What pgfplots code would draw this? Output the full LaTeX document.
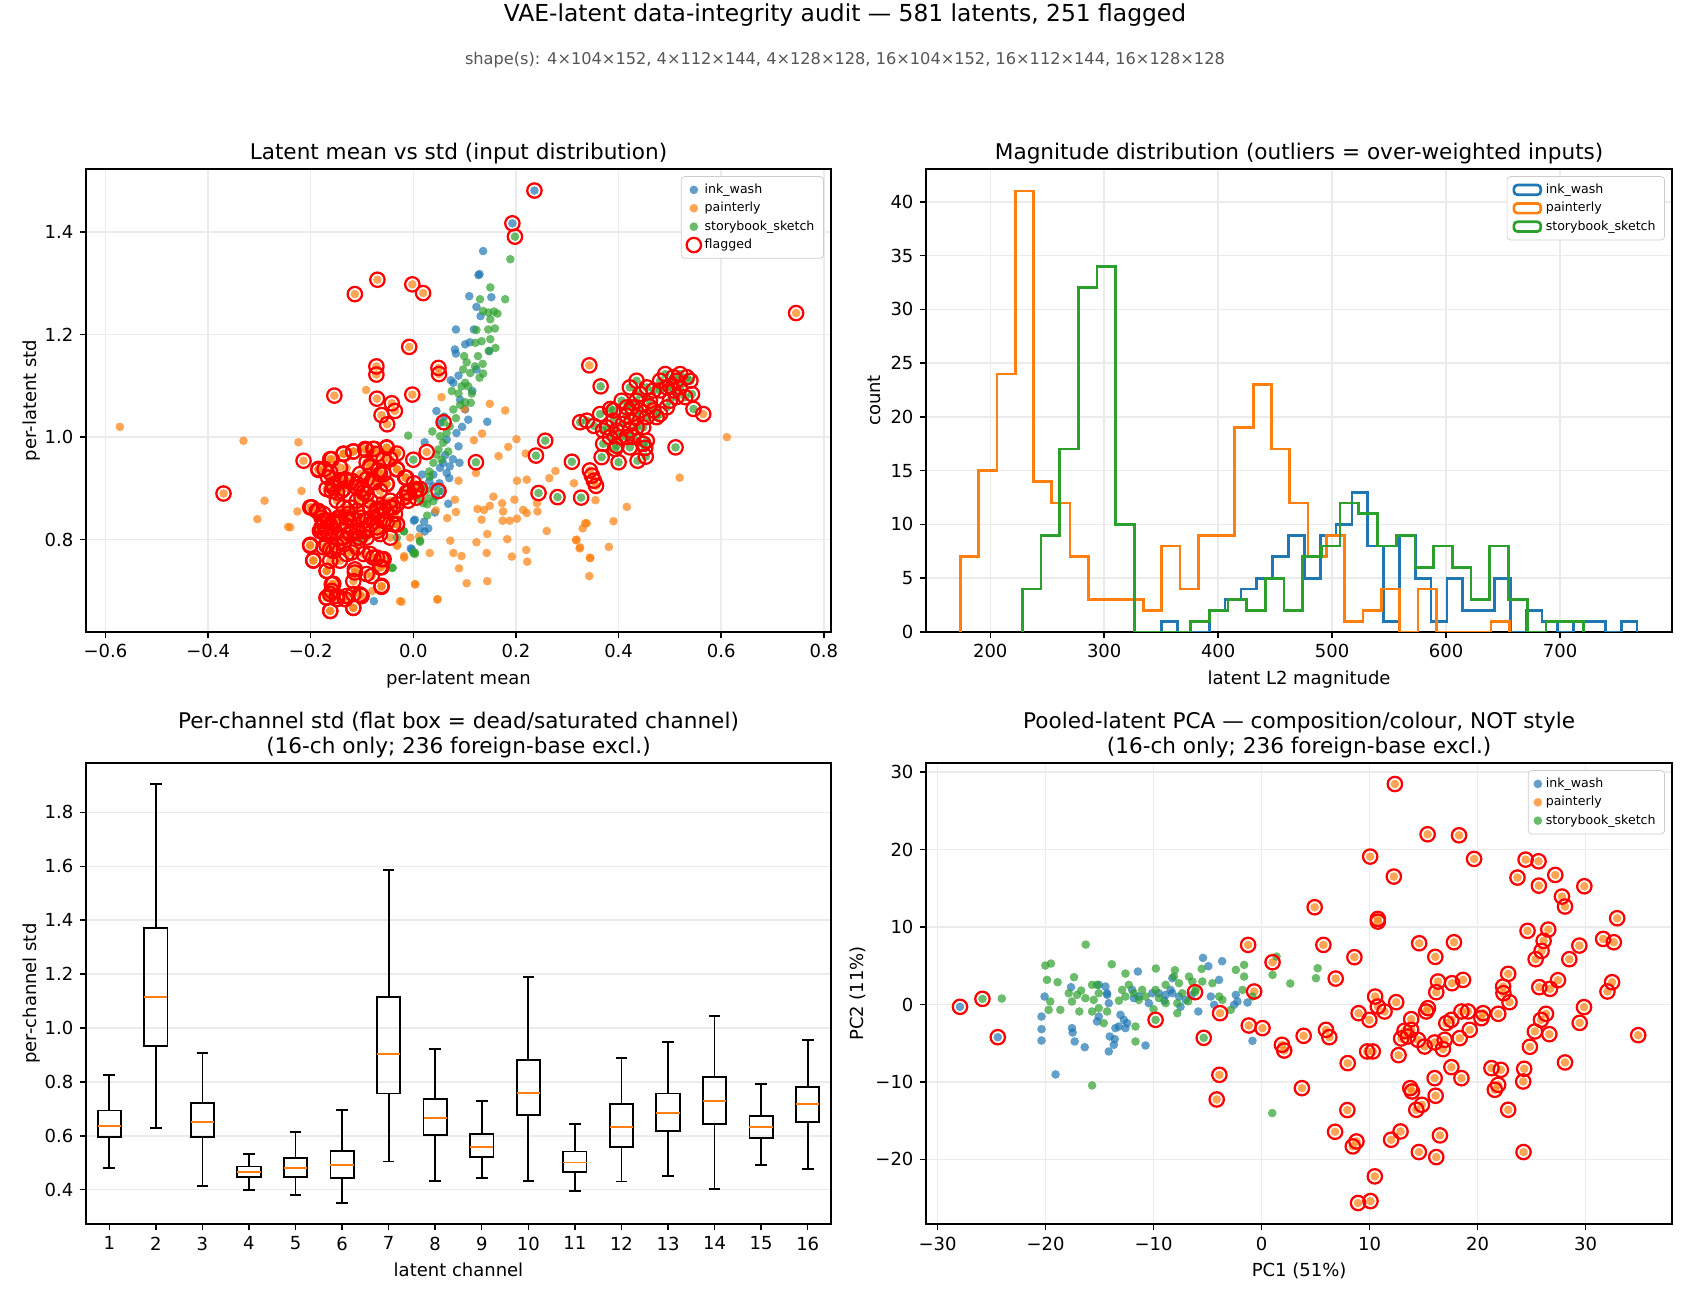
\documentclass[border=0pt]{standalone}
\usepackage{pgfplots}
\pgfplotsset{compat=1.18}
\usepackage{pgfplotstable}
\usepgfplotslibrary{statistics}
\usepackage{fontspec}
\setmainfont{DejaVu Sans}
\definecolor{mblue}{HTML}{1F77B4}
\definecolor{morange}{HTML}{FF7F0E}
\definecolor{mgreen}{HTML}{2CA02C}
\definecolor{mgrid}{HTML}{EBEBEB}
\definecolor{msub}{HTML}{555555}

\pgfplotsset{
  mpl/.style={
    scale only axis,
    axis line style={line width=0.8pt},
    tick align=outside, tick pos=left,
    major tick length=3.5pt,
    tick style={line width=0.8pt, black},
    tick label style={font=\fontsize{10}{12}\selectfont},
    label style={font=\fontsize{10}{12}\selectfont},
    title style={font=\fontsize{12}{13.5}\selectfont, align=center, yshift=-6.6pt},
    grid=major,
    major grid style={line width=0.8pt, draw=mgrid},
    legend cell align=left,
    legend style={font=\fontsize{7}{8.4}\selectfont, draw=black!20, rounded corners=2pt, fill=white,
      at={(1,1)}, anchor=north east, xshift=-4pt, yshift=-4pt, row sep=-0.6pt},
  },
  dotB/.style={only marks, mark=*, mark size=2.4pt, mark options={draw opacity=0, fill=mblue, fill opacity=0.7}},
  dotO/.style={only marks, mark=*, mark size=2.4pt, mark options={draw opacity=0, fill=morange, fill opacity=0.7}},
  dotG/.style={only marks, mark=*, mark size=2.4pt, mark options={draw opacity=0, fill=mgreen, fill opacity=0.7}},
  flag/.style={only marks, mark=o, mark size=4pt, mark options={draw=red, line width=1.25pt, fill=none}},
  hst/.style={const plot, line width=1.5pt, mark=none},
}

% ---------------- top-left: mean vs std ----------------
\pgfplotstableread[row sep=\\]{x y\\
0.136 1.363\\ 0.129 1.318\\ 0.127 1.316\\ 0.109 1.275\\ 0.152 1.273\\ 0.123 1.254\\ 0.131 1.236\\
0.083 1.210\\ 0.118 1.210\\ 0.101 1.181\\ 0.110 1.185\\ 0.081 1.171\\ 0.083 1.163\\ 0.148 1.168\\
0.123 1.132\\ 0.073 1.111\\ 0.078 1.106\\ 0.115 1.090\\ 0.091 1.073\\ 0.101 1.054\\ 0.045 1.051\\
0.107 1.034\\ 0.052 1.028\\ 0.144 1.030\\ 0.084 1.008\\ 0.065 0.995\\ 0.022 0.990\\ 0.088 0.982\\
0.090 0.950\\ 0.071 0.943\\ 0.077 0.957\\ 0.058 0.950\\ 0.052 0.940\\ 0.065 0.930\\ 0.070 0.920\\
0.039 0.927\\ 0.031 0.914\\ 0.017 0.927\\ 0.039 0.904\\ 0.051 0.910\\ 0.057 0.894\\ 0.044 0.884\\
0.003 0.839\\ 0.021 0.835\\ 0.013 0.822\\ 0.029 0.822\\ 0.022 0.816\\ -0.005 0.783\\ -0.077 0.680\\
-0.003 0.781\\ 0.001 0.837\\ 0.042 0.853\\ 0.062 0.965\\ 0.095 1.020\\ 0.060 1.040\\ 0.088 1.120\\ 0.068 0.870\\
}\tlBU
\pgfplotstableread[row sep=\\]{x y\\ 0.236 1.481\\ 0.193 1.417\\}\tlBF
\pgfplotstableread[row sep=\\]{x y\\
-0.572 1.020\\ -0.331 0.993\\ -0.224 0.990\\ -0.290 0.876\\ -0.304 0.840\\ -0.244 0.825\\ -0.218 0.895\\
-0.226 0.855\\ -0.092 1.092\\ -0.026 0.680\\ 0.047 0.684\\ 0.004 0.713\\ -0.018 0.765\\ -0.006 0.804\\
-0.031 0.790\\ 0.055 1.078\\ 0.149 1.065\\ 0.179 1.052\\ 0.100 1.055\\ 0.118 0.994\\ 0.134 1.007\\
0.166 0.963\\ 0.185 0.981\\ 0.201 0.996\\ 0.219 0.968\\ 0.202 0.915\\ 0.221 0.917\\ 0.241 0.871\\
0.088 0.915\\ 0.122 0.930\\ 0.081 0.878\\ 0.066 0.842\\ 0.044 0.857\\ 0.083 0.854\\ 0.156 0.884\\
0.173 0.871\\ 0.149 0.866\\ 0.125 0.860\\ 0.138 0.858\\ 0.133 0.839\\ 0.175 0.855\\ 0.197 0.878\\
0.174 0.837\\ 0.188 0.837\\ 0.202 0.841\\ 0.214 0.858\\ 0.221 0.852\\ 0.242 0.855\\ 0.260 0.817\\
0.183 0.801\\ 0.144 0.811\\ 0.123 0.795\\ 0.072 0.798\\ 0.078 0.774\\ 0.094 0.768\\ 0.032 0.774\\
-0.018 0.768\\ 0.011 0.806\\ 0.192 0.767\\ 0.220 0.780\\ 0.222 0.757\\ 0.143 0.774\\ 0.089 0.744\\
0.104 0.715\\ 0.144 0.719\\ 0.047 0.683\\ 0.003 0.713\\ -0.023 0.679\\ 0.335 0.832\\ 0.330 0.822\\
0.318 0.800\\ 0.325 0.785\\ 0.344 0.765\\ 0.343 0.729\\ 0.313 0.910\\ 0.265 0.920\\ 0.277 0.934\\
0.611 1.000\\ 0.519 0.921\\ 0.355 0.877\\ 0.416 0.864\\ 0.390 0.836\\ 0.338 0.832\\ 0.317 0.799\\
0.324 0.783\\ 0.381 0.786\\ 0.345 0.764\\ -0.060 0.880\\ -0.120 0.860\\ -0.150 0.760\\ -0.080 0.700\\
-0.190 0.820\\ -0.130 0.940\\ -0.031 0.970\\ -0.240 0.824\\ -0.032 0.788\\
}\tlOU
\pgfplotstableread[row sep=\\]{x y\\
-0.370 0.890\\ -0.214 0.954\\ -0.185 0.936\\ -0.173 0.938\\ -0.159 0.957\\ -0.136 0.968\\ -0.117 0.972\\
-0.092 0.975\\ -0.076 0.977\\ -0.052 0.979\\ -0.084 0.944\\ -0.068 0.935\\ -0.058 0.957\\ -0.032 0.937\\
-0.014 0.921\\ 0.001 0.910\\ 0.006 0.898\\ -0.009 0.892\\ 0.006 0.882\\ -0.143 0.916\\ -0.156 0.908\\
-0.169 0.899\\ -0.130 0.915\\ -0.110 0.902\\ -0.097 0.892\\ -0.101 0.882\\ -0.084 0.876\\ -0.065 0.895\\
-0.052 0.908\\ -0.039 0.863\\ -0.032 0.830\\ -0.045 0.876\\ -0.053 0.856\\ -0.071 0.860\\ -0.201 0.863\\
-0.188 0.856\\ -0.179 0.843\\ -0.175 0.830\\ -0.169 0.817\\ -0.156 0.834\\ -0.146 0.843\\ -0.130 0.827\\
-0.117 0.840\\ -0.097 0.837\\ -0.084 0.830\\ -0.071 0.817\\ -0.091 0.804\\ -0.107 0.804\\ -0.123 0.811\\
-0.140 0.804\\ -0.149 0.788\\ -0.162 0.781\\ -0.175 0.785\\ -0.201 0.790\\ -0.195 0.760\\ -0.169 0.739\\
-0.162 0.759\\ -0.143 0.759\\ -0.130 0.772\\ -0.110 0.785\\ -0.084 0.772\\ -0.071 0.765\\ -0.058 0.762\\
-0.062 0.746\\ -0.081 0.729\\ -0.114 0.736\\ -0.117 0.719\\ -0.156 0.714\\ -0.159 0.700\\ -0.169 0.687\\
-0.162 0.661\\ -0.149 0.684\\ -0.130 0.690\\ -0.117 0.667\\ -0.104 0.693\\ -0.062 0.708\\ -0.136 0.804\\
-0.045 0.804\\ -0.039 0.830\\ -0.179 0.824\\ -0.166 0.837\\ -0.162 0.827\\ -0.153 0.817\\ -0.172 0.811\\
-0.182 0.817\\ -0.143 0.833\\ -0.130 0.843\\ -0.110 0.824\\ -0.097 0.817\\ -0.081 0.843\\ -0.068 0.847\\
-0.052 0.834\\ -0.036 0.850\\ -0.019 0.882\\ -0.010 0.876\\ -0.110 0.876\\ -0.123 0.863\\ -0.136 0.863\\
-0.149 0.876\\ -0.159 0.895\\ -0.140 0.895\\ -0.120 0.915\\ -0.104 0.928\\ -0.091 0.951\\ -0.071 0.967\\
-0.045 0.957\\ -0.143 0.941\\ -0.162 0.931\\ -0.091 0.918\\ -0.075 0.912\\ -0.058 0.928\\
-0.185 0.938\\ -0.162 0.957\\ -0.136 0.967\\ -0.117 0.972\\ -0.094 0.977\\ -0.078 0.977\\ -0.052 0.980\\
-0.032 0.968\\ -0.166 0.921\\ -0.143 0.915\\ -0.133 0.918\\ -0.156 0.902\\ -0.149 0.892\\ -0.136 0.899\\
-0.110 0.909\\ -0.101 0.899\\ -0.091 0.889\\ -0.078 0.915\\ -0.065 0.928\\ -0.084 0.941\\ -0.052 0.909\\
-0.032 0.938\\ -0.016 0.921\\ -0.013 0.892\\ 0.003 0.895\\ 0.013 0.899\\ -0.198 0.863\\ -0.185 0.856\\
-0.175 0.850\\ -0.175 0.837\\ -0.169 0.824\\ -0.179 0.817\\ -0.156 0.837\\ -0.143 0.843\\ -0.127 0.850\\
-0.110 0.856\\ -0.101 0.843\\ -0.084 0.863\\ -0.071 0.856\\ -0.058 0.863\\ -0.045 0.863\\ -0.032 0.869\\
-0.032 0.830\\ -0.084 0.830\\ -0.071 0.824\\ -0.058 0.837\\ -0.110 0.817\\ -0.123 0.811\\ -0.104 0.804\\
-0.065 0.811\\ -0.091 0.817\\ -0.201 0.788\\ -0.169 0.788\\ -0.156 0.778\\ -0.136 0.791\\ -0.120 0.775\\
-0.097 0.772\\ -0.078 0.765\\ -0.062 0.762\\ -0.195 0.759\\ -0.169 0.739\\ -0.114 0.742\\ -0.091 0.733\\
-0.065 0.746\\ -0.062 0.710\\ -0.159 0.713\\ -0.162 0.694\\ -0.169 0.687\\ -0.149 0.690\\ -0.133 0.684\\
-0.117 0.694\\ -0.101 0.690\\ -0.162 0.661\\ -0.117 0.667\\
-0.070 1.307\\ -0.002 1.298\\ 0.019 1.281\\ -0.114 1.279\\ 0.746 1.242\\ -0.008 1.176\\ -0.072 1.138\\
-0.072 1.122\\ 0.049 1.135\\ 0.050 1.123\\ -0.154 1.081\\ -0.071 1.075\\ -0.002 1.083\\ -0.042 1.066\\
-0.036 1.051\\ -0.062 1.043\\ -0.051 1.025\\ 0.026 0.971\\ 0.343 1.140\\ 0.565 1.045\\ 0.344 0.935\\
0.348 0.925\\ 0.352 0.915\\ 0.356 0.905\\ 0.425 1.030\\ 0.500 1.100\\ 0.460 1.060\\
}\tlOF
\pgfplotstableread[row sep=\\]{x y\\
0.189 1.347\\ 0.150 1.292\\ 0.130 1.269\\ 0.179 1.269\\ 0.136 1.246\\ 0.146 1.243\\ 0.157 1.245\\
0.164 1.241\\ 0.150 1.230\\ 0.159 1.212\\ 0.146 1.210\\ 0.123 1.209\\ 0.150 1.191\\ 0.121 1.184\\
0.133 1.187\\ 0.160 1.174\\ 0.147 1.168\\ 0.099 1.158\\ 0.126 1.158\\ 0.135 1.143\\ 0.104 1.146\\
0.120 1.138\\ 0.097 1.132\\ 0.111 1.125\\ 0.101 1.106\\ 0.129 1.116\\ 0.136 1.124\\ 0.094 1.099\\
0.107 1.099\\ 0.114 1.085\\ 0.088 1.085\\ 0.075 1.090\\ 0.101 1.068\\ 0.112 1.067\\ 0.091 1.063\\
0.078 1.054\\ 0.083 1.037\\ 0.037 1.011\\ -0.010 1.003\\ 0.045 0.966\\ 0.055 0.956\\ 0.039 0.950\\
0.031 0.933\\ 0.032 0.923\\ 0.026 0.897\\ 0.013 0.878\\ 0.019 0.871\\ 0.017 0.904\\ 0.039 0.875\\
0.030 0.881\\ 0.013 0.796\\ 0.000 0.774\\ -0.018 0.816\\ 0.071 1.021\\ 0.065 1.008\\ 0.058 0.989\\
0.049 0.976\\ 0.068 0.972\\ 0.052 1.002\\ -0.040 0.745\\ -0.032 0.804\\ 0.013 0.798\\ 0.003 0.772\\
0.027 0.869\\ 0.027 0.847\\ -0.042 0.745\\ -0.104 0.801\\ 0.003 0.775\\ -0.019 0.817\\
}\tlGU
\pgfplotstableread[row sep=\\]{x y\\
0.198 1.391\\ 0.059 1.029\\ 0.000 0.956\\ 0.049 0.895\\ 0.122 0.951\\ 0.257 0.993\\ 0.239 0.964\\
0.244 0.891\\ 0.281 0.883\\ 0.327 0.882\\ 0.309 0.952\\ 0.365 1.099\\ 0.511 0.980\\ 0.400 0.951\\
0.437 0.954\\ 0.453 0.962\\ 0.325 1.029\\ 0.338 1.032\\ 0.352 1.022\\ 0.367 0.961\\ 0.370 0.987\\
0.393 0.977\\ 0.452 0.979\\ 0.364 1.045\\ 0.384 1.055\\ 0.377 1.019\\ 0.390 1.032\\
0.396 1.013\\ 0.403 1.000\\ 0.416 1.000\\ 0.422 1.013\\ 0.409 1.026\\ 0.416 1.042\\ 0.426 1.058\\
0.435 1.071\\ 0.442 1.084\\ 0.435 1.110\\ 0.422 1.097\\ 0.455 1.097\\ 0.468 1.091\\ 0.481 1.091\\
0.491 1.123\\ 0.507 1.117\\ 0.520 1.123\\ 0.533 1.117\\ 0.543 1.084\\ 0.546 1.055\\ 0.513 1.078\\
0.500 1.071\\ 0.481 1.045\\ 0.468 1.052\\ 0.455 1.039\\ 0.448 1.019\\ 0.435 1.019\\ 0.461 1.071\\
0.442 1.052\\ 0.494 1.097\\ 0.520 1.097\\ 0.530 1.078\\ 0.481 1.110\\ 0.383 1.000\\ 0.370 1.013\\
0.422 0.980\\ 0.455 0.993\\ 0.474 1.039\\ 0.507 1.091\\ 0.513 1.110\\ 0.540 1.110\\ 0.435 1.039\\
0.416 1.058\\ 0.406 1.071\\ 0.390 1.052\\ 0.494 1.058\\ 0.429 1.000\\ 0.448 0.987\\ 0.396 0.983\\
}\tlGF

% ---------------- bottom-right: PCA ----------------
\pgfplotstableread[row sep=\\]{x y\\
-20.09 1.03\\ -20.37 -1.55\\ -20.37 -3.18\\ -20.37 -4.65\\ -19.07 -9.03\\ -17.64 2.24\\ -17.55 -3.05\\
-17.49 -3.61\\ -17.30 -4.77\\ -16.37 -5.51\\ -15.07 -1.55\\ -15.23 -2.19\\ -14.30 1.25\\ -14.14 0.17\\
-13.06 -1.33\\ -12.75 -1.98\\ -12.44 -2.41\\ -13.53 -3.05\\ -13.22 -2.84\\ -12.60 -3.05\\ -14.05 -4.13\\
-13.59 -4.47\\ -13.68 -5.20\\ -14.14 -6.06\\ -10.74 -5.29\\ -11.45 4.26\\ -11.98 1.89\\ -11.82 0.82\\
-11.36 1.03\\ -10.43 0.17\\ -10.12 1.46\\ -9.50 1.46\\ -8.88 1.25\\ -8.26 1.46\\ -8.42 1.89\\
-8.26 3.40\\ -7.64 1.03\\ -7.03 0.60\\ -5.42 6.02\\ -4.92 4.95\\ -3.65 5.59\\ -3.93 3.18\\
-4.70 1.03\\ -4.39 -0.04\\ -2.38 1.25\\ -2.23 0.39\\ -2.54 -0.04\\ -1.30 0.26\\ -5.85 -0.90\\
-0.84 -4.69\\ -15.07 2.54\\ -14.45 2.32\\ -14.30 1.46\\ -9.00 0.50\\ -6.50 1.20\\ -7.50 -0.30\\
}\pcBU
\pgfplotstableread[row sep=\\]{x y\\ -27.92 -0.30\\ -24.42 -4.22\\}\pcBF
\pgfplotstableread[row sep=\\]{x y\\
-24.05 0.77\\ -16.28 7.74\\ -20.02 5.03\\ -19.50 5.29\\ -19.86 3.18\\ -18.88 2.88\\ -17.36 3.53\\
-13.87 5.20\\ -12.60 4.00\\ -9.78 4.65\\ -8.02 4.43\\ -5.54 4.60\\ -19.56 0.39\\ -19.71 -0.69\\
-18.63 -0.69\\ -16.87 -0.90\\ -17.85 1.46\\ -17.08 1.25\\ -16.31 0.82\\ -17.55 0.39\\ -15.69 2.54\\
-15.23 2.54\\ -15.07 1.46\\ -15.54 0.60\\ -15.69 -0.90\\ -15.07 -0.47\\ -14.30 -0.90\\ -14.61 -2.41\\
-12.91 1.89\\ -12.29 2.54\\ -12.60 1.03\\ -11.82 1.46\\ -11.05 1.89\\ -11.36 0.60\\ -10.74 1.03\\
-9.81 1.89\\ -8.88 2.54\\ -9.50 0.82\\ -8.88 0.17\\ -8.11 3.61\\ -7.64 2.75\\ -7.34 1.46\\
-7.80 0.17\\ -7.80 -1.12\\ -6.72 3.61\\ -6.41 2.97\\ -6.10 1.89\\ -5.48 2.97\\ -4.55 2.75\\
-3.93 1.03\\ -3.62 0.60\\ -2.85 -0.69\\ -2.38 4.47\\ -1.61 5.12\\ -1.61 3.61\\ -1.76 1.89\\
-0.84 1.03\\ 1.02 3.83\\ 2.66 2.71\\ 1.39 6.19\\ 5.20 4.69\\ 5.04 3.40\\ -11.67 -2.84\\
-11.67 -4.77\\ -15.69 -10.45\\ 0.99 -14.02\\ -16.70 1.80\\ -13.20 0.50\\ -10.00 -0.60\\ -6.80 0.40\\
}\pcGU
\pgfplotstableread[row sep=\\]{x y\\ -25.84 0.73\\ -9.81 -1.98\\ -6.16 1.59\\ -5.35 -4.30\\}\pcGF
\pgfplotstableread[row sep=\\]{x y\\
-1.24 7.70\\ -0.68 1.68\\ -3.84 -1.12\\ -1.18 -2.71\\ 0.09 -3.05\\ -3.90 -9.08\\ -4.15 -12.26\\
1.02 5.46\\ 1.89 -5.20\\ 2.10 -5.94\\ 3.90 -4.04\\ 3.74 -10.80\\ 4.92 12.56\\ 5.73 7.70\\ 5.97 -3.27\\
12.35 28.47\\ 15.38 21.98\\ 18.29 21.85\\ 10.06 19.10\\ 19.68 18.80\\ 12.25 16.52\\ 24.45 18.71\\
25.65 18.49\\ 23.70 16.39\\ 27.20 16.73\\ 25.68 15.35\\ 29.89 15.27\\ 27.82 13.94\\ 28.10 12.65\\
10.77 11.05\\ 10.77 10.71\\ 32.93 11.14\\ 8.60 6.11\\ 14.60 7.91\\ 17.82 8.04\\ 16.09 6.15\\
6.87 3.35\\ 24.63 9.51\\ 26.55 9.68\\ 26.12 8.22\\ 25.93 6.92\\ 25.38 5.85\\ 29.43 7.61\\
28.50 5.85\\ 31.63 8.47\\ 32.62 8.04\\ 22.84 3.96\\ 22.37 2.32\\ 22.40 1.46\\ 22.96 0.30\\
25.72 2.24\\ 26.71 2.02\\ 27.45 3.14\\ 32.46 2.88\\ 32.03 1.68\\ 29.86 -0.34\\ 29.46 -2.37\\
34.88 -3.96\\ 8.99 -1.12\\ 9.99 -1.98\\ 10.52 1.03\\ 10.77 -0.26\\ 11.39 -0.90\\ 12.47 0.30\\
16.34 2.97\\ 17.64 2.75\\ 18.66 3.18\\ 16.18 1.59\\ 15.41 -0.47\\ 15.25 -0.90\\ 13.86 -1.89\\
13.24 -3.40\\ 13.86 -3.27\\ 14.48 -4.56\\ 15.10 -5.42\\ 16.03 -4.90\\ 16.96 -4.56\\ 16.80 -5.76\\
12.93 -4.39\\ 13.55 -4.13\\ 17.11 -2.41\\ 17.58 -1.98\\ 18.51 -0.90\\ 19.12 -0.90\\ 18.35 -4.34\\
19.28 -3.27\\ 20.36 -1.76\\ 20.52 -1.12\\ 21.92 -1.20\\ 6.28 -4.22\\ 7.98 -7.57\\ 9.78 -6.06\\
10.30 -6.06\\ 12.69 -6.54\\ 17.58 -8.09\\ 18.51 -9.51\\ 16.03 -9.51\\ 21.29 -8.22\\ 22.16 -8.43\\
21.91 -10.37\\ 21.60 -11.01\\ 24.32 -8.30\\ 24.23 -9.94\\ 26.34 -1.20\\ 25.87 -1.98\\ 25.31 -3.48\\
26.65 -3.83\\ 24.85 -5.46\\ 28.10 -7.48\\ 13.77 -10.80\\ 13.93 -11.23\\ 16.12 -11.78\\ 14.85 -12.95\\
14.33 -13.59\\ 22.84 -13.59\\ 7.95 -13.63\\ 6.81 -16.43\\ 8.79 -17.68\\ 8.45 -18.32\\ 12.00 -17.46\\
12.87 -16.39\\ 16.52 -16.90\\ 14.57 -19.05\\ 16.18 -19.70\\ 24.26 -19.05\\ 10.49 -22.19\\ 8.94 -25.63\\
10.09 -25.38\\
}\pcOF

\begin{document}
\begin{tikzpicture}
\path[use as bounding box] (0,0) rectangle (936bp,-720bp);
\node[font=\fontsize{13}{15.6}\selectfont] at (468bp,-8.3bp) {VAE-latent data-integrity audit — 581 latents, 251 flagged};
\node[font=\fontsize{9}{10.8}\selectfont, text=msub] at (468bp,-33.3bp) {shape(s): 4×104×152, 4×112×144, 4×128×128, 16×104×152, 16×112×144, 16×128×128};

% ===== top-left =====
\begin{axis}[mpl, at={(47.63bp,-93.6bp)}, anchor=north west, width=412.6bp, height=256.4bp,
  xmin=-0.638, xmax=0.814, ymin=0.620, ymax=1.523,
  xtick={-0.6,-0.4,-0.2,0,0.2,0.4,0.6,0.8},
  xticklabels={−0.6,−0.4,−0.2,0.0,0.2,0.4,0.6,0.8},
  ytick={0.8,1.0,1.2,1.4}, yticklabels={0.8,1.0,1.2,1.4},
  title={Latent mean vs std (input distribution)},
  xlabel={per-latent mean}, ylabel={per-latent std},
  ylabel style={yshift=-4.2pt},
  legend image code/.code={\draw[mark repeat=2,mark phase=2,#1] plot coordinates {(0pt,0pt) (7pt,0pt) (14pt,0pt)};},
]
\addplot[dotB] table {\tlBU}; \addlegendentry{ink\_wash}
\addplot[dotB, forget plot] table {\tlBF};
\addplot[dotO] table {\tlOU}; \addlegendentry{painterly}
\addplot[dotO, forget plot] table {\tlOF};
\addplot[dotG] table {\tlGU}; \addlegendentry{storybook\_sketch}
\addplot[dotG, forget plot] table {\tlGF};
\addplot[flag] table {\tlOF}; \addlegendentry{flagged}
\addplot[flag, forget plot] table {\tlGF};
\addplot[flag, forget plot] table {\tlBF};
\end{axis}

% ===== top-right: histogram =====
\begin{axis}[mpl, at={(512.9bp,-93.6bp)}, anchor=north west, width=413.2bp, height=256.4bp,
  xmin=143.7, xmax=798.3, ymin=0, ymax=43.05,
  xtick={200,300,400,500,600,700}, xticklabels={200,300,400,500,600,700},
  ytick={0,5,10,15,20,25,30,35,40}, yticklabels={0,5,10,15,20,25,30,35,40},
  title={Magnitude distribution (outliers = over-weighted inputs)},
  xlabel={latent L2 magnitude}, ylabel={count},
  ylabel style={yshift=-1.2pt},
  legend image code/.code={\draw[#1, line width=1.5pt] (0pt,-2.7pt) rectangle (15pt,2.7pt);},
]
\addplot[hst, mblue] coordinates {(350.5,0) (350.5,1) (364.4,0) (378.3,0) (392.2,2) (406.1,3) (420.0,4) (433.9,5) (447.8,7) (461.7,9) (475.6,5) (489.5,9) (503.4,10) (517.3,13) (531.2,8) (545.1,1) (559.0,9) (572.9,5) (586.8,1) (600.7,5) (614.6,2) (628.5,2) (642.4,5) (656.3,0) (670.2,2) (684.1,1) (698.0,0) (711.9,1) (725.8,1) (739.7,0) (753.6,1) (767.5,0)};
\addlegendentry{ink\_wash}
\addplot[hst, morange] coordinates {(173.7,0) (173.7,7) (189.8,15) (205.8,24) (221.9,41) (237.9,14) (254.0,12) (270.1,7) (286.1,3) (302.2,3) (318.2,3) (334.3,2) (350.4,8) (366.4,4) (382.5,9) (398.5,9) (414.6,19) (430.7,23) (446.7,17) (462.8,12) (478.8,7) (494.9,9) (511.0,1) (527.0,2) (543.1,4) (559.1,0) (575.2,4) (591.3,0) (607.3,0) (623.4,0) (639.4,1) (655.5,0)};
\addlegendentry{painterly}
\addplot[hst, mgreen] coordinates {(228.0,0) (228.0,4) (244.4,9) (260.8,17) (277.2,32) (293.6,34) (310.1,10) (326.5,0) (342.9,0) (359.3,0) (375.7,1) (392.1,2) (408.5,3) (424.9,2) (441.3,5) (457.7,2) (474.2,7) (490.6,8) (507.0,12) (523.4,11) (539.8,8) (556.2,9) (572.6,6) (589.0,8) (605.4,6) (621.8,3) (638.3,8) (654.7,3) (671.1,0) (687.5,1) (703.9,1) (720.3,0)};
\addlegendentry{storybook\_sketch}
\end{axis}

% ===== bottom-left: box plots =====
\begin{axis}[mpl, at={(47.63bp,-422.6bp)}, anchor=north west, width=412.6bp, height=255.3bp,
  xmin=0.5, xmax=16.5, ymin=0.273, ymax=1.983,
  xmajorgrids=false, ymajorgrids=true,
  xtick={1,...,16}, xticklabels={1,2,3,4,5,6,7,8,9,10,11,12,13,14,15,16},
  ytick={0.4,0.6,0.8,1.0,1.2,1.4,1.6,1.8}, yticklabels={0.4,0.6,0.8,1.0,1.2,1.4,1.6,1.8},
  title={Per-channel std (flat box = dead/saturated channel)\\(16-ch only; 236 foreign-base excl.)},
  xlabel={latent channel}, ylabel={per-channel std},
  ylabel style={yshift=-4.2pt},
  boxplot/draw direction=y,
  boxplot/box extend=0.5, boxplot/whisker extend=0.25,
  boxplot/every median/.style={draw=morange, line width=1pt},
]
\addplot[draw=black, line width=1pt, boxplot prepared={draw direction=y, draw position=1, median=0.636, upper quartile=0.694, lower quartile=0.596, upper whisker=0.827, lower whisker=0.482}] coordinates {};
\addplot[draw=black, line width=1pt, boxplot prepared={draw direction=y, draw position=2, median=1.116, upper quartile=1.371, lower quartile=0.932, upper whisker=1.905, lower whisker=0.629}] coordinates {};
\addplot[draw=black, line width=1pt, boxplot prepared={draw direction=y, draw position=3, median=0.652, upper quartile=0.722, lower quartile=0.596, upper whisker=0.907, lower whisker=0.414}] coordinates {};
\addplot[draw=black, line width=1pt, boxplot prepared={draw direction=y, draw position=4, median=0.466, upper quartile=0.486, lower quartile=0.447, upper whisker=0.534, lower whisker=0.399}] coordinates {};
\addplot[draw=black, line width=1pt, boxplot prepared={draw direction=y, draw position=5, median=0.481, upper quartile=0.519, lower quartile=0.447, upper whisker=0.615, lower whisker=0.381}] coordinates {};
\addplot[draw=black, line width=1pt, boxplot prepared={draw direction=y, draw position=6, median=0.492, upper quartile=0.544, lower quartile=0.443, upper whisker=0.696, lower whisker=0.351}] coordinates {};
\addplot[draw=black, line width=1pt, boxplot prepared={draw direction=y, draw position=7, median=0.904, upper quartile=1.116, lower quartile=0.757, upper whisker=1.586, lower whisker=0.505}] coordinates {};
\addplot[draw=black, line width=1pt, boxplot prepared={draw direction=y, draw position=8, median=0.666, upper quartile=0.737, lower quartile=0.603, upper whisker=0.923, lower whisker=0.433}] coordinates {};
\addplot[draw=black, line width=1pt, boxplot prepared={draw direction=y, draw position=9, median=0.558, upper quartile=0.608, lower quartile=0.521, upper whisker=0.730, lower whisker=0.443}] coordinates {};
\addplot[draw=black, line width=1pt, boxplot prepared={draw direction=y, draw position=10, median=0.759, upper quartile=0.882, lower quartile=0.677, upper whisker=1.190, lower whisker=0.433}] coordinates {};
\addplot[draw=black, line width=1pt, boxplot prepared={draw direction=y, draw position=11, median=0.501, upper quartile=0.542, lower quartile=0.466, upper whisker=0.644, lower whisker=0.396}] coordinates {};
\addplot[draw=black, line width=1pt, boxplot prepared={draw direction=y, draw position=12, median=0.633, upper quartile=0.719, lower quartile=0.558, upper whisker=0.889, lower whisker=0.431}] coordinates {};
\addplot[draw=black, line width=1pt, boxplot prepared={draw direction=y, draw position=13, median=0.685, upper quartile=0.757, lower quartile=0.619, upper whisker=0.948, lower whisker=0.451}] coordinates {};
\addplot[draw=black, line width=1pt, boxplot prepared={draw direction=y, draw position=14, median=0.730, upper quartile=0.819, lower quartile=0.644, upper whisker=1.045, lower whisker=0.403}] coordinates {};
\addplot[draw=black, line width=1pt, boxplot prepared={draw direction=y, draw position=15, median=0.633, upper quartile=0.675, lower quartile=0.592, upper whisker=0.792, lower whisker=0.492}] coordinates {};
\addplot[draw=black, line width=1pt, boxplot prepared={draw direction=y, draw position=16, median=0.718, upper quartile=0.782, lower quartile=0.652, upper whisker=0.956, lower whisker=0.477}] coordinates {};
\end{axis}

% ===== bottom-right: PCA =====
\begin{axis}[mpl, at={(512.9bp,-422.6bp)}, anchor=north west, width=413.2bp, height=255.3bp,
  xmin=-31.06, xmax=38.02, ymin=-28.34, ymax=31.18,
  xtick={-30,-20,-10,0,10,20,30}, xticklabels={−30,−20,−10,0,10,20,30},
  ytick={-20,-10,0,10,20,30}, yticklabels={−20,−10,0,10,20,30},
  title={Pooled-latent PCA — composition/colour, NOT style\\(16-ch only; 236 foreign-base excl.)},
  xlabel={PC1 (51\%)}, ylabel={PC2 (11\%)},
  ylabel style={yshift=-1.8pt},
  legend image code/.code={\draw[mark repeat=2,mark phase=2,#1] plot coordinates {(0pt,0pt) (7pt,0pt) (14pt,0pt)};},
]
\addplot[dotB] table {\pcBU}; \addlegendentry{ink\_wash}
\addplot[dotB, forget plot] table {\pcBF};
\addplot[dotO] table {\pcOF}; \addlegendentry{painterly}
\addplot[dotG] table {\pcGU}; \addlegendentry{storybook\_sketch}
\addplot[dotG, forget plot] table {\pcGF};
\addplot[flag, forget plot] table {\pcOF};
\addplot[flag, forget plot] table {\pcGF};
\addplot[flag, forget plot] table {\pcBF};
\end{axis}
\end{tikzpicture}
\end{document}
